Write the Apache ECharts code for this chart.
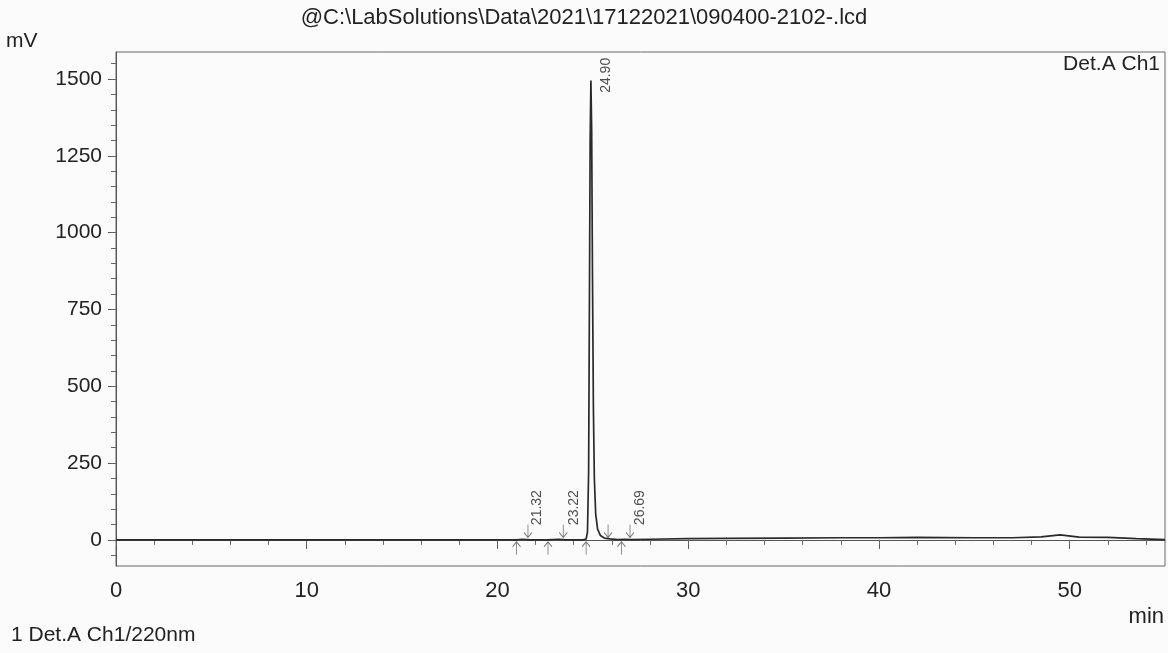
<!DOCTYPE html>
<html>
<head>
<meta charset="utf-8">
<title>chromatogram</title>
<script src="https://cdn.jsdelivr.net/npm/echarts@6.0.0/dist/echarts.min.js"></script>
<style>
  html, body { margin: 0; padding: 0; background: #fbfbfb; }
  #chart { width: 1168px; height: 653px; }
</style>
</head>
<body>
<div id="chart"></div>
<script>
// retention time (min) and detector signal (mV)
var times = [0, 5, 10, 15, 20, 21.0, 21.32, 21.7, 22.6, 23.22, 23.6, 24.5,
  24.65, 24.72, 24.78, 24.82, 24.86, 24.9, 24.94, 24.98, 25.03, 25.08, 25.15,
  25.25, 25.4, 25.6, 25.9, 26.3, 26.69, 27.0, 28, 30, 32, 35, 38, 40, 42, 45,
  47, 48.5, 49.5, 50.5, 52, 53.5, 55];
var signal = [0, 0, 0, 0, 0, 0, 2, 0, 0, 2, 0, 0,
  3, 25, 220, 750, 1300, 1495, 1330, 880, 430, 200, 85,
  35, 14, 6, 3, 1, 2, 1, 2, 4, 5, 6, 7, 7, 8, 7,
  7, 10, 16, 9, 8, 4, 1];

// peak table
var peakTimes = [21.32, 23.22, 24.90, 26.69];
var peakLabelBase = [48, 48, 1455, 48];

// integration markers
var downMarks = [21.6, 23.45, 25.8, 26.95];
var upMarks = [21.0, 22.65, 24.65, 26.5];

// axes
var xLabels = [0, 10, 20, 30, 40, 50];
var yLabels = [0, 250, 500, 750, 1000, 1250, 1500];
var xMin = 0, xMax = 55;
var yMin = -85, yMax = 1588;

var xMinor = [];
for (var i = 0; i <= 54; i += 2) xMinor.push(i);
var yMinor = [];
for (var j = -50; j <= 1550; j += 50) yMinor.push(j);

var lineData = times.map(function (t, k) { return [t, signal[k]]; });
var labelData = peakTimes.map(function (t, k) { return [t, peakLabelBase[k]]; });
var downData = downMarks.map(function (t) { return [t, 29]; });
var upData = upMarks.map(function (t) { return [t, -27]; });

var FONT = 'Liberation Sans, Arial, sans-serif';
var downArrow = 'path://M5,0 L5,13 M1.5,8 L5,13 L8.5,8';
var upArrow = 'path://M5,13 L5,0 M1.5,5 L5,0 L8.5,5';

var chart = echarts.init(document.getElementById('chart'));

var option = {
  backgroundColor: '#fbfbfb',
  animation: false,
  textStyle: { fontFamily: FONT },
  title: {
    text: '@C:\\LabSolutions\\Data\\2021\\17122021\\090400-2102-.lcd',
    left: 579, top: 2,
    textAlign: 'center',
    textStyle: { fontFamily: FONT, fontSize: 22, fontWeight: 'normal', color: '#222' }
  },
  graphic: [
    { type: 'text', left: 6, top: 31, style: { text: 'mV', font: '21px ' + FONT, fill: '#222' } },
    { type: 'text', right: 4, top: 606, style: { text: 'min', font: '22px ' + FONT, fill: '#222' } },
    { type: 'text', left: 11, top: 625, style: { text: '1 Det.A Ch1/220nm', font: '21px ' + FONT, fill: '#222' } },
    { type: 'text', right: 8, top: 54, style: { text: 'Det.A Ch1', font: '21px ' + FONT, fill: '#222' } }
  ],
  grid: {
    left: 116, right: 3, top: 52, bottom: 87,
    show: true, borderColor: '#666', borderWidth: 1, backgroundColor: 'transparent'
  },
  xAxis: [{
    type: 'value', min: xMin, max: xMax,
    axisLine: { lineStyle: { color: '#555', width: 1 } },
    splitLine: { show: false },
    axisTick: { customValues: xLabels, length: 9, lineStyle: { color: '#555' } },
    axisLabel: { customValues: xLabels, margin: 14, fontSize: 22, color: '#222', fontFamily: FONT }
  }, {
    type: 'value', min: xMin, max: xMax, position: 'bottom',
    axisLine: { show: false },
    splitLine: { show: false },
    axisTick: { customValues: xMinor, length: 5, lineStyle: { color: '#666' } },
    axisLabel: { show: false }
  }],
  yAxis: [{
    type: 'value', min: yMin, max: yMax,
    axisLine: { show: true, lineStyle: { color: '#555', width: 1 } },
    splitLine: { show: false },
    axisTick: { show: true, customValues: yLabels, length: 8, lineStyle: { color: '#555' } },
    axisLabel: {
      customValues: yLabels, margin: 14, fontSize: 21, color: '#222', fontFamily: FONT,
      formatter: function (v) { return String(v); }
    }
  }, {
    type: 'value', min: yMin, max: yMax, position: 'left',
    axisLine: { show: false },
    splitLine: { show: false },
    axisTick: { show: true, customValues: yMinor, length: 5, lineStyle: { color: '#666' } },
    axisLabel: { show: false }
  }],
  series: [{
    name: 'Det.A Ch1',
    type: 'line',
    data: lineData,
    showSymbol: false,
    lineStyle: { color: '#2a2a2a', width: 1.7 },
    z: 3
  }, {
    name: 'peaks',
    type: 'scatter',
    data: labelData,
    symbolSize: 1,
    itemStyle: { color: 'transparent' },
    label: {
      show: true,
      position: 'inside',
      rotate: 90,
      align: 'left',
      verticalAlign: 'middle',
      // offset is in the rotated frame: [along text, across text]
      offset: [0, 15],
      fontSize: 14,
      fontFamily: FONT,
      color: '#222',
      formatter: function (p) { return p.value[0].toFixed(2); }
    },
    z: 4
  }, {
    name: 'down',
    type: 'scatter',
    data: downData,
    symbol: downArrow,
    symbolSize: [8, 13],
    itemStyle: { color: 'transparent', borderColor: '#555', borderWidth: 1 },
    z: 4
  }, {
    name: 'up',
    type: 'scatter',
    data: upData,
    symbol: upArrow,
    symbolSize: [8, 13],
    itemStyle: { color: 'transparent', borderColor: '#555', borderWidth: 1 },
    z: 4
  }]
};

chart.setOption(option);
</script>
</body>
</html>
